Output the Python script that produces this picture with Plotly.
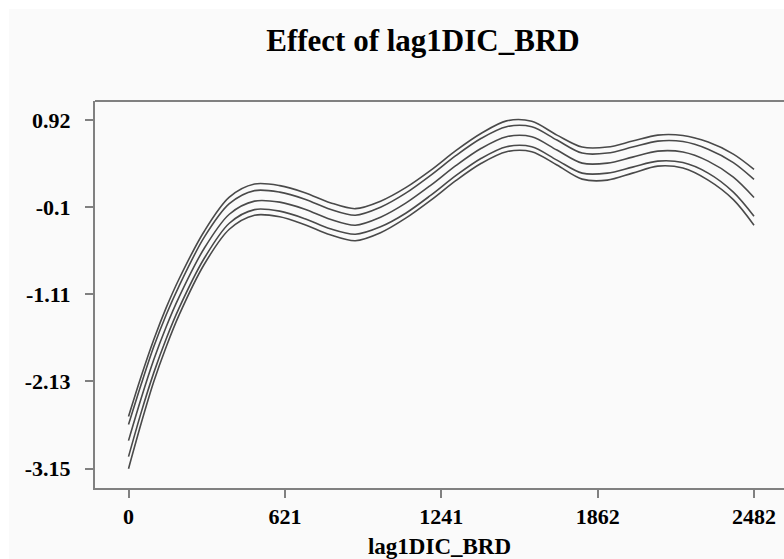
import plotly.graph_objects as go

# x positions (lag1DIC_BRD)
x_vals = [0, 50, 100, 150, 200, 300, 400, 500, 600, 700, 800, 900, 1000, 1100,
          1200, 1300, 1400, 1500, 1600, 1700, 1800, 1900, 2000, 2100, 2200, 2300, 2400, 2482]

upper_outer = [-2.542, -2.075, -1.646, -1.268, -0.939, -0.381, 0.019, 0.172, 0.154, 0.072,
               -0.045, -0.115, -0.028, 0.130, 0.335, 0.565, 0.765, 0.910, 0.905, 0.744,
               0.604, 0.604, 0.674, 0.744, 0.739, 0.662, 0.522, 0.344]
upper_inner = [-2.636, -2.168, -1.728, -1.350, -1.021, -0.451, -0.057, 0.096, 0.078, -0.004,
               -0.121, -0.191, -0.098, 0.066, 0.277, 0.507, 0.707, 0.842, 0.842, 0.686,
               0.534, 0.534, 0.604, 0.674, 0.669, 0.580, 0.423, 0.227]
estimate = [-2.823, -2.332, -1.880, -1.490, -1.150, -0.580, -0.180, -0.027, -0.039, -0.121,
            -0.238, -0.308, -0.215, -0.051, 0.160, 0.390, 0.590, 0.725, 0.725, 0.569,
            0.417, 0.417, 0.487, 0.557, 0.546, 0.440, 0.253, 0.016]
lower_inner = [-3.010, -2.496, -2.032, -1.630, -1.279, -0.697, -0.285, -0.126, -0.144, -0.232,
               -0.349, -0.413, -0.326, -0.168, 0.043, 0.273, 0.473, 0.608, 0.608, 0.452,
               0.300, 0.300, 0.370, 0.440, 0.423, 0.300, 0.078, -0.203]
lower_outer = [-3.151, -2.624, -2.137, -1.724, -1.361, -0.767, -0.355, -0.191, -0.209, -0.302,
               -0.419, -0.489, -0.396, -0.226, -0.015, 0.215, 0.415, 0.550, 0.550, 0.394,
               0.230, 0.218, 0.300, 0.382, 0.359, 0.218, -0.010, -0.308]

x_tickvals = [0, 621, 1241, 1862, 2482]
x_ticktext = ["0", "621", "1241", "1862", "2482"]
y_tickvals = [0.92, -0.1, -1.11, -2.13, -3.15]
y_ticktext = ["0.92", "-0.1", "-1.11", "-2.13", "-3.15"]

FONT = "Liberation Serif"
LINE_COLOR = "#4a4a4a"
AXIS_COLOR = "#808080"

fig = go.Figure()
for name, ys in [("upper 2", upper_outer), ("upper 1", upper_inner), ("estimate", estimate),
                 ("lower 1", lower_inner), ("lower 2", lower_outer)]:
    fig.add_trace(go.Scatter(
        x=x_vals, y=ys, mode="lines", name=name,
        line=dict(color=LINE_COLOR, width=1.6, shape="spline", smoothing=0.9),
        showlegend=False, hoverinfo="skip"))

# light background panel (white strip at top/left as in the reference)
fig.add_shape(type="rect", xref="paper", yref="paper",
              x0=-0.1248, x1=1.01, y0=-0.19, y1=1.2377,
              fillcolor="#fafafa", line=dict(width=0), layer="below")
# top frame line
fig.add_shape(type="line", xref="paper", yref="paper", x0=0, x1=1, y0=1, y1=1,
              line=dict(color=AXIS_COLOR, width=2))

fig.update_layout(
    width=784, height=559,
    margin=dict(l=95, r=0, t=101, b=71),
    paper_bgcolor="#ffffff",
    plot_bgcolor="rgba(0,0,0,0)",
    title=dict(text="<b>Effect of lag1DIC_BRD</b>", x=0.476, xref="paper", xanchor="center",
               y=0.928, yref="container", yanchor="middle",
               font=dict(family=FONT, size=31, color="#000000")),
    font=dict(family=FONT, color="#000000"),
)
fig.update_xaxes(
    range=[-133, 2601], tickvals=x_tickvals, ticktext=[f"<b>{t}</b>" for t in x_ticktext],
    showgrid=False, zeroline=False, showline=True, linecolor=AXIS_COLOR, linewidth=1.5,
    ticks="outside", ticklen=8, tickcolor=AXIS_COLOR, tickwidth=1.5,
    tickfont=dict(family=FONT, size=22, color="#000000"),
    title=dict(text="<b>lag1DIC_BRD</b>", font=dict(family=FONT, size=23, color="#000000"), standoff=10),
)
fig.update_yaxes(
    range=[-3.376, 1.142], tickvals=y_tickvals, ticktext=[f"<b>{t}</b>" for t in y_ticktext],
    showgrid=False, zeroline=False, showline=True, linecolor=AXIS_COLOR, linewidth=2,
    ticks="outside", ticklen=8, tickcolor=AXIS_COLOR, tickwidth=1.5,
    tickfont=dict(family=FONT, size=22, color="#000000"), ticklabelstandoff=10,
)

fig.write_html("out.html")
